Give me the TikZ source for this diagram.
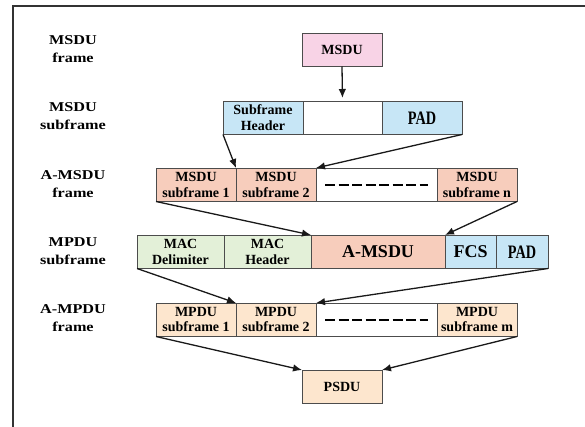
\documentclass[tikz,border=0pt]{standalone}
\usepackage{fontspec}
\setmainfont{Liberation Serif}
\newfontfamily\rowfont[FakeStretch=1.2]{Liberation Serif}
\newfontfamily\padfont[FakeStretch=0.75]{Liberation Serif}
\usepackage{tikz}
\usetikzlibrary{positioning}
\usetikzlibrary{arrows.meta}

\definecolor{msdupink}{HTML}{F8D3E6}
\definecolor{subblue}{HTML}{C7E6F6}
\definecolor{amsdusalmon}{HTML}{F7CDBC}
\definecolor{macgreen}{HTML}{E3F0D8}
\definecolor{mpdupeach}{HTML}{FDE6CE}

\begin{document}
\begin{tikzpicture}[
    x=1pt, y=-1pt,
    fbox/.style={draw=black!70, semithick, inner sep=0, outer sep=0, align=center,
        minimum width=80pt, minimum height=33.5pt,
        font=\fontsize{14}{15.5}\selectfont\bfseries},
    bigtext/.style={font=\fontsize{18}{19}\selectfont\bfseries},
    padtext/.style={font=\padfont\fontsize{19}{19}\selectfont\bfseries},
    rlabel/.style={align=center, inner sep=0, font=\rowfont\fontsize{13.5}{18}\selectfont\bfseries},
    dedge/.style={-{Latex[length=9pt,width=7.5pt]}, line width=1.3pt, draw=black!90},
    dashrow/.style={line width=1.7pt, dash pattern=on 10pt off 3.5pt}
]
\useasboundingbox (0,0) rectangle (585,427);

% frame
\draw[line width=1.8pt, black!80] (13,427) -- (13,6) -- (585,6);

% row labels
\node[rlabel] (lmsdu)  at (73,49)  {MSDU\\frame};
\node[rlabel] (lsub)   at (73,116) {MSDU\\subframe};
\node[rlabel] (lamsdu) at (73,184) {A-MSDU\\frame};
\node[rlabel] (lmpdu)  at (73,251) {MPDU\\subframe};
\node[rlabel] (lampdu) at (73,318) {A-MPDU\\frame};

% MSDU frame
\node[fbox, fill=msdupink, anchor=north west] (msdu) at (302,33) {MSDU};

% MSDU subframe
\node[fbox, fill=subblue, anchor=north west] (shdr) at (223,101) {Subframe\\Header};
\node[fbox, minimum width=79pt, right=0pt of shdr] (sbody) {};
\node[fbox, fill=subblue, padtext, right=0pt of sbody] (spad) {PAD};

% A-MSDU frame
\node[fbox, fill=amsdusalmon, anchor=north west] (as1) at (156,168) {MSDU\\subframe 1};
\node[fbox, fill=amsdusalmon, right=0pt of as1] (as2) {MSDU\\subframe 2};
\node[fbox, minimum width=121pt, right=0pt of as2] (asdots) {};
\node[fbox, fill=amsdusalmon, right=0pt of asdots] (asn) {MSDU\\subframe n};
\draw[dashrow] ([xshift=9pt]asdots.west) -- ([xshift=-9pt]asdots.east);

% MPDU subframe
\node[fbox, fill=macgreen, minimum width=87pt, anchor=north west] (macd) at (137,235) {MAC\\Delimiter};
\node[fbox, fill=macgreen, minimum width=87pt, right=0pt of macd] (mach) {MAC\\Header};
\node[fbox, fill=amsdusalmon, bigtext, minimum width=134pt, right=0pt of mach] (mamsdu) {A-MSDU};
\node[fbox, fill=subblue, bigtext, minimum width=51pt, right=0pt of mamsdu] (mfcs) {FCS};
\node[fbox, fill=subblue, padtext, minimum width=52pt, right=0pt of mfcs] (mpad) {PAD};

% A-MPDU frame
\node[fbox, fill=mpdupeach, anchor=north west] (ap1) at (156,303) {MPDU\\subframe 1};
\node[fbox, fill=mpdupeach, right=0pt of ap1] (ap2) {MPDU\\subframe 2};
\node[fbox, minimum width=121pt, right=0pt of ap2] (apdots) {};
\node[fbox, fill=mpdupeach, right=0pt of apdots] (apm) {MPDU\\subframe m};
\draw[dashrow] ([xshift=9pt]apdots.west) -- ([xshift=-9pt]apdots.east);

% PSDU
\node[fbox, fill=mpdupeach, anchor=north west] (psdu) at (302,370) {PSDU};

% arrows
\draw[dedge, shorten >=3pt] (msdu.south) -- (sbody.north);
\draw[dedge] (shdr.south west) -- (as1.north east);
\draw[dedge] (spad.south east) -- (as2.north east);
\draw[dedge] (as1.south west) -- (mach.north east);
\draw[dedge] (asn.south east) -- (mamsdu.north east);
\draw[dedge] (macd.south west) -- (ap1.north east);
\draw[dedge] (mpad.south east) -- (ap2.north east);
\draw[dedge] (ap1.south west) -- (psdu.north west);
\draw[dedge] (apm.south east) -- (psdu.north east);

\end{tikzpicture}
\end{document}
